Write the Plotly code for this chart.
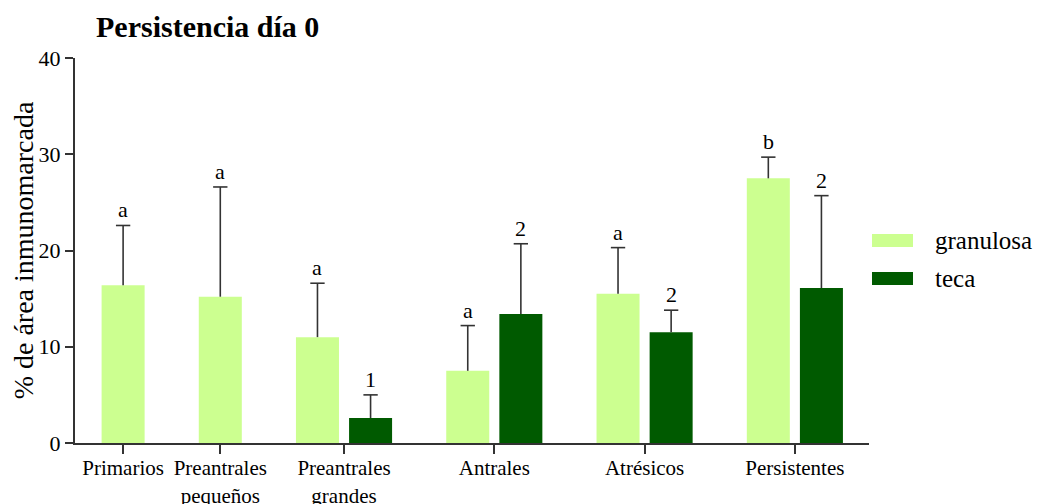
import plotly.graph_objects as go

# Data
categories = ["Primarios", "Preantrales<br>pequeños", "Preantrales<br>grandes",
              "Antrales", "Atrésicos", "Persistentes"]
granulosa = [16.4, 15.2, 11.0, 7.5, 15.5, 27.5]
granulosa_err = [6.2, 11.4, 5.6, 4.7, 4.8, 2.2]
granulosa_lbl = ["a", "a", "a", "a", "a", "b"]
teca = [None, None, 2.6, 13.4, 11.5, 16.1]
teca_err = [None, None, 2.4, 7.3, 2.3, 9.6]
teca_lbl = [None, None, "1", "2", "2", "2"]

c_gran = "#CCFF90"
c_teca = "#005A00"
axis_col = "#333333"
font = "Liberation Serif, Times New Roman, serif"

# page body adds an 8px margin, so the figure is drawn 8px smaller/shifted
W, H, OFF = 1043 - 8, 504 - 8, 8

# bar positions: pitch 1 inside a group, larger gap between groups
gap = 0.83
xg, xt, centers = [], [], []
pos = 0.0
for i in range(len(categories)):
    xg.append(pos)
    if teca[i] is not None:
        xt.append(pos + 1)
        centers.append(pos + 0.5)
        pos += 2 + gap
    else:
        xt.append(None)
        centers.append(pos)
        pos += 1 + gap
last_x = pos - gap - 1

fig = go.Figure()
fig.add_trace(go.Bar(x=xg, y=granulosa, width=0.81, marker_color=c_gran,
                     marker_line_width=0, name="granulosa"))
tx = [x for x, v in zip(xt, teca) if v is not None]
ty = [v for v in teca if v is not None]
te = [e for e in teca_err if e is not None]
tl = [l for l in teca_lbl if l]
fig.add_trace(go.Bar(x=tx, y=ty, width=0.81, marker_color=c_teca,
                     marker_line_width=0, name="teca"))

# upper-only error bars (whisker + top cap)
cap = 0.135
wx, wy = [], []
for xs, vs, es in [(xg, granulosa, granulosa_err), (tx, ty, te)]:
    for x, v, e in zip(xs, vs, es):
        wx += [x, x, None, x - cap, x + cap, None]
        wy += [v, v + e, None, v + e, v + e, None]
fig.add_trace(go.Scatter(x=wx, y=wy, mode="lines", hoverinfo="skip",
                         line=dict(color=axis_col, width=1.6)))

for xs, vs, es, ls in [(xg, granulosa, granulosa_err, granulosa_lbl),
                       (tx, ty, te, tl)]:
    for x, v, e, t in zip(xs, vs, es, ls):
        fig.add_annotation(x=x, y=v + e, text=t, showarrow=False,
                           yanchor="bottom", yshift=1,
                           font=dict(size=22, family=font, color="black"))

# legend drawn by hand (wide swatches)
for i, (nm, col) in enumerate([("granulosa", c_gran), ("teca", c_teca)]):
    y0 = 1 - (234 + 38 * i - 58) / 385
    y1 = 1 - (247 + 38 * i - 58) / 385
    fig.add_shape(type="rect", xref="paper", yref="paper",
                  x0=(872 - 75) / 794, x1=(913 - 75) / 794, y0=y1, y1=y0,
                  fillcolor=col, line_width=0)
    fig.add_annotation(xref="paper", yref="paper", x=(933 - 75) / 794,
                       y=(y0 + y1) / 2, text=nm, showarrow=False,
                       xanchor="left", yanchor="middle",
                       font=dict(size=25, family=font, color="black"))

fig.update_layout(
    width=W, height=H,
    margin=dict(l=75 - OFF, r=174, t=58 - OFF, b=61),
    plot_bgcolor="white", paper_bgcolor="white",
    showlegend=False,
    title=dict(text="<b>Persistencia día 0</b>", x=(96 - OFF) / W,
               xanchor="left", y=1 - (26 - OFF) / H, yanchor="middle",
               automargin=False,
               font=dict(size=30, family=font, color="black")),
    font=dict(family=font, color="black"),
    xaxis=dict(range=[-0.906, last_x + 0.896], automargin=False,
               tickmode="array", tickvals=centers, ticktext=categories,
               ticks="outside", ticklen=9, tickwidth=2, tickcolor=axis_col,
               ticklabelstandoff=-4,
               showline=True, linecolor=axis_col, linewidth=2,
               showgrid=False, zeroline=False,
               tickfont=dict(size=21, family=font, color="black")),
    yaxis=dict(range=[0, 40], tickvals=[0, 10, 20, 30, 40], automargin=False,
               ticks="outside", ticklen=8, tickwidth=2, tickcolor=axis_col,
               showline=True, linecolor=axis_col, linewidth=2,
               showgrid=False, zeroline=False,
               title=dict(text="% de área inmunomarcada", standoff=4,
                          font=dict(size=28, family=font, color="black")),
               tickfont=dict(size=22, family=font, color="black")),
)

fig.write_html("out.html")
